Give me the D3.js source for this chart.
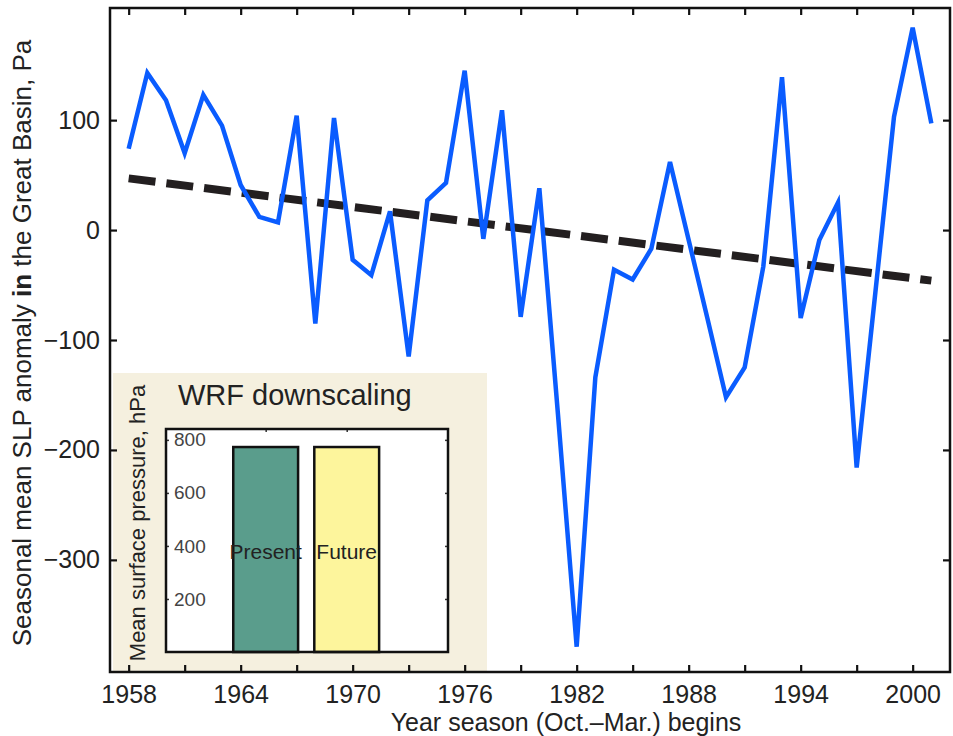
<!DOCTYPE html>
<html>
<head>
<meta charset="utf-8">
<script src="https://cdn.jsdelivr.net/npm/d3@7/dist/d3.min.js"></script>
<style>
  body { margin: 0; background: #fff; }
  svg { display: block; font-family: "Liberation Sans", Arial, Helvetica, sans-serif; }
  .axis path { display: none; }
  .axis line { stroke: #111; stroke-width: 2.2; }
  .axis text { fill: #222; font-size: 25px; }
  .inset-axis line { stroke: #333; stroke-width: 1.5; }
  .inset-axis text { fill: #444; font-size: 19px; }
</style>
</head>
<body>
<svg id="chart" width="953" height="736"></svg>
<script>
// season start years and SLP anomaly (Pa)
const years = [1958, 1959, 1960, 1961, 1962, 1963, 1964, 1965, 1966, 1967, 1968,
  1969, 1970, 1971, 1972, 1973, 1974, 1975, 1976, 1977, 1978, 1979, 1980,
  1981, 1982, 1983, 1984, 1985, 1986, 1987, 1988, 1989, 1990, 1991, 1992,
  1993, 1994, 1995, 1996, 1997, 1998, 1999, 2000, 2001];
const anomaly = [74, 143, 118, 70, 123, 95, 41, 12, 7, 104, -85,
  102, -27, -41, 17, -115, 27, 43, 145, -8, 109, -79, 38,
  -168, -379, -134, -36, -45, -17, 62, -9, -80, -152, -125, -33,
  139, -80, -9, 25, -216, -57, 103, 184, 97];

// linear trend endpoints
const trendYears = [1958, 2001];
const trendValues = [47, -46];

const xTicks = [1958, 1961, 1964, 1967, 1970, 1973, 1976, 1979, 1982, 1985,
  1988, 1991, 1994, 1997, 2000];
const xLabels = [1958, 1964, 1970, 1976, 1982, 1988, 1994, 2000];
const yTicks = [-300, -200, -100, 0, 100];

// inset bar chart
const insetCats = ["Present", "Future"];
const insetPos = [1, 2];
const insetValues = [773, 773];
const insetColors = ["#5a9d8c", "#fdf59c"];
const insetTicks = [200, 400, 600, 800];

const MARGIN = { TOP: 8, RIGHT: 3, BOTTOM: 64, LEFT: 110 };
const WIDTH = 953, HEIGHT = 736;

const svg = d3.select('#chart');

const x = d3.scaleLinear()
  .domain([1957, 2002])
  .range([MARGIN.LEFT, WIDTH - MARGIN.RIGHT]);
const y = d3.scaleLinear()
  .domain([-402, 202])
  .range([HEIGHT - MARGIN.BOTTOM, MARGIN.TOP]);

const x0 = x.range()[0], x1 = x.range()[1];
const y0 = y.range()[1], y1 = y.range()[0];

// inset background (drawn under the axes so the ticks show on top)
svg.append('rect')
  .attr('x', 113).attr('y', 373)
  .attr('width', 374).attr('height', y1 - 373)
  .attr('fill', '#f5f0df');

// axes, matlab style ticks inside on all four sides
svg.append('g')
  .attr('class', 'axis')
  .attr('transform', `translate(0, ${y1})`)
  .call(d3.axisBottom(x).tickValues(xTicks).tickSize(-7).tickPadding(13)
    .tickFormat(d => xLabels.includes(d) ? d : ''));
svg.append('g')
  .attr('class', 'axis')
  .attr('transform', `translate(0, ${y0})`)
  .call(d3.axisTop(x).tickValues(xTicks).tickSize(-7).tickFormat(''));
svg.append('g')
  .attr('class', 'axis')
  .attr('transform', `translate(${x0}, 0)`)
  .call(d3.axisLeft(y).tickValues(yTicks).tickSize(-7).tickPadding(10));
svg.append('g')
  .attr('class', 'axis')
  .attr('transform', `translate(${x1}, 0)`)
  .call(d3.axisRight(y).tickValues(yTicks).tickSize(-7).tickFormat(''));

// trend line
svg.append('line')
  .attr('x1', x(trendYears[0])).attr('y1', y(trendValues[0]))
  .attr('x2', x(trendYears[1])).attr('y2', y(trendValues[1]))
  .attr('stroke', '#231f20')
  .attr('stroke-width', 8)
  .attr('stroke-dasharray', '27,11');

// anomaly series
const line = d3.line()
  .x((d, i) => x(years[i]))
  .y(d => y(d));
svg.append('path')
  .datum(anomaly)
  .attr('d', line)
  .attr('fill', 'none')
  .attr('stroke', '#0a5cff')
  .attr('stroke-width', 4.5)
  .attr('stroke-linejoin', 'miter');

// frame
svg.append('rect')
  .attr('x', x0).attr('y', y0)
  .attr('width', x1 - x0).attr('height', y1 - y0)
  .attr('fill', 'none')
  .attr('stroke', '#111')
  .attr('stroke-width', 2.5);

// axis titles
svg.append('text')
  .attr('x', 566)
  .attr('y', 731)
  .attr('text-anchor', 'middle')
  .attr('font-size', 25)
  .attr('fill', '#222')
  .text('Year season (Oct.\u2013Mar.) begins');

const yTitle = svg.append('text')
  .attr('transform', 'translate(31, 343) rotate(-90)')
  .attr('text-anchor', 'middle')
  .attr('font-size', 26)
  .attr('fill', '#222');
yTitle.append('tspan').text('Seasonal mean SLP anomaly ');
yTitle.append('tspan').attr('font-weight', 'bold').text('in');
yTitle.append('tspan').text(' the Great Basin, Pa');

// ---- inset ----
const ix = d3.scaleLinear().domain([-0.23, 3.25]).range([166, 448]);
const iy = d3.scaleLinear().domain([0, 841]).range([652, 429]);
const barW = ix(0.8) - ix(0);

svg.append('text')
  .attr('x', 178).attr('y', 405)
  .attr('font-size', 29)
  .attr('fill', '#222')
  .text('WRF downscaling');

svg.append('rect')
  .attr('x', ix.range()[0]).attr('y', iy.range()[1])
  .attr('width', ix.range()[1] - ix.range()[0])
  .attr('height', iy.range()[0] - iy.range()[1])
  .attr('fill', '#fff');

svg.selectAll('.bar')
  .data(insetValues)
  .enter()
  .append('rect')
  .attr('class', 'bar')
  .attr('x', (d, i) => ix(insetPos[i]) - barW / 2)
  .attr('y', d => iy(d))
  .attr('width', barW)
  .attr('height', d => iy(0) - iy(d))
  .attr('fill', (d, i) => insetColors[i])
  .attr('stroke', '#111')
  .attr('stroke-width', 2.5);

const iyAxis = svg.append('g')
  .attr('class', 'inset-axis')
  .attr('transform', `translate(${ix.range()[0]}, 0)`)
  .call(d3.axisRight(iy).tickValues(insetTicks).tickSize(3).tickPadding(5));
iyAxis.select('path').remove();
svg.append('g')
  .attr('class', 'inset-axis')
  .attr('transform', `translate(${ix.range()[1]}, 0)`)
  .call(d3.axisLeft(iy).tickValues(insetTicks).tickSize(3).tickFormat(''))
  .select('path').remove();
svg.append('g')
  .attr('class', 'inset-axis')
  .attr('transform', `translate(0, ${iy.range()[1]})`)
  .call(d3.axisBottom(ix).tickValues(insetPos).tickSize(3).tickFormat(''))
  .select('path').remove();

svg.selectAll('.bar-label')
  .data(insetCats)
  .enter()
  .append('text')
  .attr('class', 'bar-label')
  .attr('x', (d, i) => ix(insetPos[i]))
  .attr('y', 552)
  .attr('dy', '0.35em')
  .attr('text-anchor', 'middle')
  .attr('font-size', 21)
  .attr('fill', '#222')
  .text(d => d);

svg.append('rect')
  .attr('x', ix.range()[0]).attr('y', iy.range()[1])
  .attr('width', ix.range()[1] - ix.range()[0])
  .attr('height', iy.range()[0] - iy.range()[1])
  .attr('fill', 'none')
  .attr('stroke', '#111')
  .attr('stroke-width', 2.5);

svg.append('text')
  .attr('transform', 'translate(145, 523) rotate(-90)')
  .attr('text-anchor', 'middle')
  .attr('font-size', 22)
  .attr('fill', '#222')
  .text('Mean surface pressure, hPa');
</script>
</body>
</html>
